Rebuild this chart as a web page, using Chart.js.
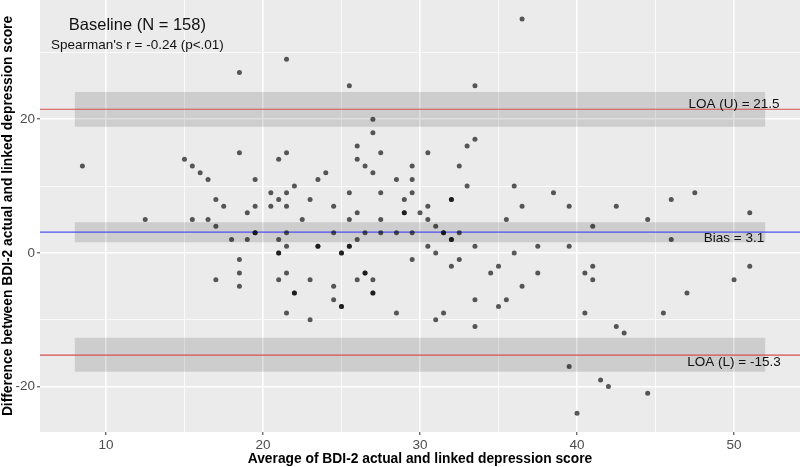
<!DOCTYPE html>
<html>
<head>
<meta charset="utf-8">
<script src="https://cdn.jsdelivr.net/npm/chart.js@4.4.0/dist/chart.umd.min.js"></script>
<style>
html,body{margin:0;padding:0;background:#ffffff;}
#wrap{width:800px;height:467px;}
</style>
</head>
<body>
<div id="wrap"><canvas id="c" width="800" height="467"></canvas></div>
<script>
// ---- data ----
const avgScore = [
  18.5, 15, 18.5,
  21.5, 25.5, 33.5, 36.5, 27, 27, 26, 27.5, 21.5, 21, 26, 30.5, 33, 33.5,
  8.5, 15.5, 16, 16.5, 19.5, 17, 17.5, 19, 19.5, 12.5, 15.5, 16.5, 17, 18, 19, 19.5, 19.5, 18.5, 18.5, 18.5, 17,
  29.5, 32.5, 26.5, 24, 27, 23.5, 28.5, 29.5, 22, 33, 36, 20.5, 21.5, 25.5, 27.5, 29.5, 21, 23, 29, 32, 32,
  20.5, 21.5, 24.5, 30.5, 36.5, 26, 29, 29, 30, 22.5, 25.5, 27.5, 30.5, 35.5, 31,
  21.5, 24.5, 26.5, 27.5, 28.5, 29.5, 31.5, 31.5, 32.5, 21, 26, 32, 32, 21.5, 23.5, 23.5, 25.5, 25.5, 30.5, 33.5,
  21, 21, 25, 25, 31, 36, 29.5, 32.5, 32, 35, 21.5, 26.5, 26.5, 34.5, 21, 23, 26, 27, 36.5, 24.5,
  22, 22, 27, 27, 24.5, 33.5, 35.5, 25, 25, 35,
  21.5, 23, 28.5, 31, 31.5, 33.5,
  38.5, 39.5, 42.5, 46, 47.5, 51, 44.5, 41, 46, 37.5, 39.5, 37.5, 40.5, 41, 41, 51, 50, 47,
  40.5, 45.5, 42.5, 43, 39.5, 41.5, 42, 44.5, 40
];
const diffScore = [
  27, 14, 15,
  29, 25, 25, 35, 20, 18, 16, 15, 15, 14, 14, 15, 16, 17,
  13, 13, 12, 11, 11, 8, 7, 6, 7, 5, 5, 5, 4, 2, 2, 3, 3, -1, -3, -5, -4,
  13, 13, 13, 12, 12, 11, 11, 11, 10, 10, 10, 9, 9, 9, 9, 9, 8, 8, 8, 8, 8,
  7, 7, 7, 7, 7, 6, 6, 6, 6, 5, 5, 5, 5, 5, 4,
  3, 3, 3, 3, 3, 3, 3, 3, 3, 2, 2, 2, 2, 1, 1, 1, 1, 1, 1, 1,
  0, 0, 0, 0, 0, 0, -1, -1, -2, -2, -3, -3, -3, -3, -4, -4, -4, -4, -5, -5,
  -6, -6, -6, -6, -7, -7, -7, -8, -8, -8,
  -9, -10, -9, -10, -9, -11,
  9, 7, 7, 8, 9, 6, 5, 4, 2, 1, 1, -3, -3, -2, -4, -2, -4, -6,
  -9, -9, -11, -12, -17, -19, -20, -21, -24
];
const limitNames  = ['LOA (U)', 'Bias', 'LOA (L)'];
const limitValues = [21.5, 3.1, -15.3];
const limitLower  = [18.9, 1.6, -17.8];
const limitUpper  = [24.1, 4.6, -12.7];
const bandFrom = 8, bandTo = 52;
const xRange = [5.8, 54.2];
const yRange = [-26.8, 37.85];
const xTickLabels = [10, 20, 30, 40, 50];
const yTickLabels = [-20, 0, 20];
const titleText = 'Baseline (N = 158)';
const subtitleText = "Spearman's r = -0.24 (p<.01)";
const xTitle = 'Average of BDI-2 actual and linked depression score';
const yTitle = 'Difference between BDI-2 actual and linked depression score';

// ---- build datasets ----
const FONT = '"Liberation Sans", Arial, Helvetica, sans-serif';
const points = avgScore.map((a, i) => ({x: a, y: diffScore[i]}));
const lineColors = ['#d85050', '#4f4ff2', '#d85050'];

const datasets = [{
  type: 'scatter',
  label: 'points',
  data: points,
  pointRadius: 2.5,
  pointBackgroundColor: 'rgba(0,0,0,0.64)',
  pointBorderWidth: 0,
  borderColor: 'rgba(0,0,0,0)',
  order: 0
}];
limitValues.forEach((v, i) => {
  datasets.push({
    type: 'line',
    label: limitNames[i] + ' band top',
    data: [{x: bandFrom, y: limitUpper[i]}, {x: bandTo, y: limitUpper[i]}],
    borderWidth: 0,
    borderColor: 'rgba(0,0,0,0)',
    pointRadius: 0,
    backgroundColor: 'rgba(0,0,0,0.125)',
    fill: '+1',
    order: 3
  });
  datasets.push({
    type: 'line',
    label: limitNames[i] + ' band bottom',
    data: [{x: bandFrom, y: limitLower[i]}, {x: bandTo, y: limitLower[i]}],
    borderWidth: 0,
    borderColor: 'rgba(0,0,0,0)',
    pointRadius: 0,
    fill: false,
    order: 3
  });
});
limitValues.forEach((v, i) => {
  datasets.push({
    type: 'line',
    label: limitNames[i],
    data: [{x: xRange[0], y: v}, {x: xRange[1], y: v}],
    borderWidth: 1.2,
    borderColor: lineColors[i],
    pointRadius: 0,
    fill: false,
    order: 1
  });
});

const panelBg = {
  id: 'panelBg',
  beforeDraw(chart) {
    const {ctx, chartArea: a} = chart;
    ctx.save();
    ctx.fillStyle = '#ebebeb';
    ctx.fillRect(a.left, a.top, a.right - a.left, a.bottom - a.top);
    ctx.restore();
  }
};

const texts = {
  id: 'texts',
  afterDatasetsDraw(chart) {
    const {ctx, scales: {x, y}} = chart;
    ctx.save();
    ctx.fillStyle = '#111111';
    ctx.textAlign = 'center';
    ctx.textBaseline = 'middle';
    ctx.font = '16.5px ' + FONT;
    ctx.fillText(titleText, x.getPixelForValue(12), y.getPixelForValue(34.1));
    ctx.font = '13.5px ' + FONT;
    ctx.fillText(subtitleText, x.getPixelForValue(12), y.getPixelForValue(31.1));
    const offs = [-5, 6, 7];
    limitNames.forEach((n, i) => {
      ctx.fillText(n + ' = ' + limitValues[i], x.getPixelForValue(50), y.getPixelForValue(limitValues[i]) + offs[i]);
    });
    ctx.restore();
  }
};

new Chart(document.getElementById('c'), {
  type: 'scatter',
  data: {datasets},
  options: {
    responsive: false,
    devicePixelRatio: 1,
    animation: false,
    events: [],
    layout: {padding: 0, autoPadding: false},
    plugins: {legend: {display: false}, tooltip: {enabled: false}},
    scales: {
      x: {
        type: 'linear',
        min: xRange[0], max: xRange[1],
        afterFit(s) { s.height = 35; s.paddingLeft = 0; s.paddingRight = 0; },
        border: {display: false},
        grid: {
          color: '#ffffff',
          lineWidth: c => (c.tick && xTickLabels.includes(c.tick.value)) ? 1.6 : 0.8,
          drawTicks: true,
          tickLength: 3,
          tickWidth: 1,
          tickColor: c => (c.tick && xTickLabels.includes(c.tick.value)) ? '#333333' : 'rgba(0,0,0,0)'
        },
        ticks: {
          stepSize: 5,
          includeBounds: false,
          autoSkip: false,
          maxRotation: 0,
          padding: 2,
          color: '#4d4d4d',
          font: {family: FONT, size: 13.5},
          callback: v => xTickLabels.includes(v) ? String(v) : ''
        },
        title: {
          display: true,
          text: xTitle,
          color: '#000000',
          font: {family: FONT, size: 13.8, weight: 'bold', lineHeight: 1.2},
          padding: {top: 0, bottom: 0}
        }
      },
      y: {
        type: 'linear',
        min: yRange[0], max: yRange[1],
        afterFit(s) { s.width = 40; s.paddingTop = 0; s.paddingBottom = 0; },
        border: {display: false},
        grid: {
          color: '#ffffff',
          lineWidth: c => (c.tick && yTickLabels.includes(c.tick.value)) ? 1.6 : 0.8,
          drawTicks: true,
          tickLength: 3,
          tickWidth: 1,
          tickColor: c => (c.tick && yTickLabels.includes(c.tick.value)) ? '#333333' : 'rgba(0,0,0,0)'
        },
        ticks: {
          stepSize: 10,
          includeBounds: false,
          autoSkip: false,
          padding: 2,
          color: '#4d4d4d',
          font: {family: FONT, size: 13.5},
          callback: v => yTickLabels.includes(v) ? String(v) : ''
        },
        title: {
          display: true,
          text: yTitle,
          color: '#000000',
          font: {family: FONT, size: 13.8, weight: 'bold', lineHeight: 1.2},
          padding: {top: 0, bottom: 0}
        }
      }
    }
  },
  plugins: [panelBg, texts]
});
</script>
</body>
</html>
